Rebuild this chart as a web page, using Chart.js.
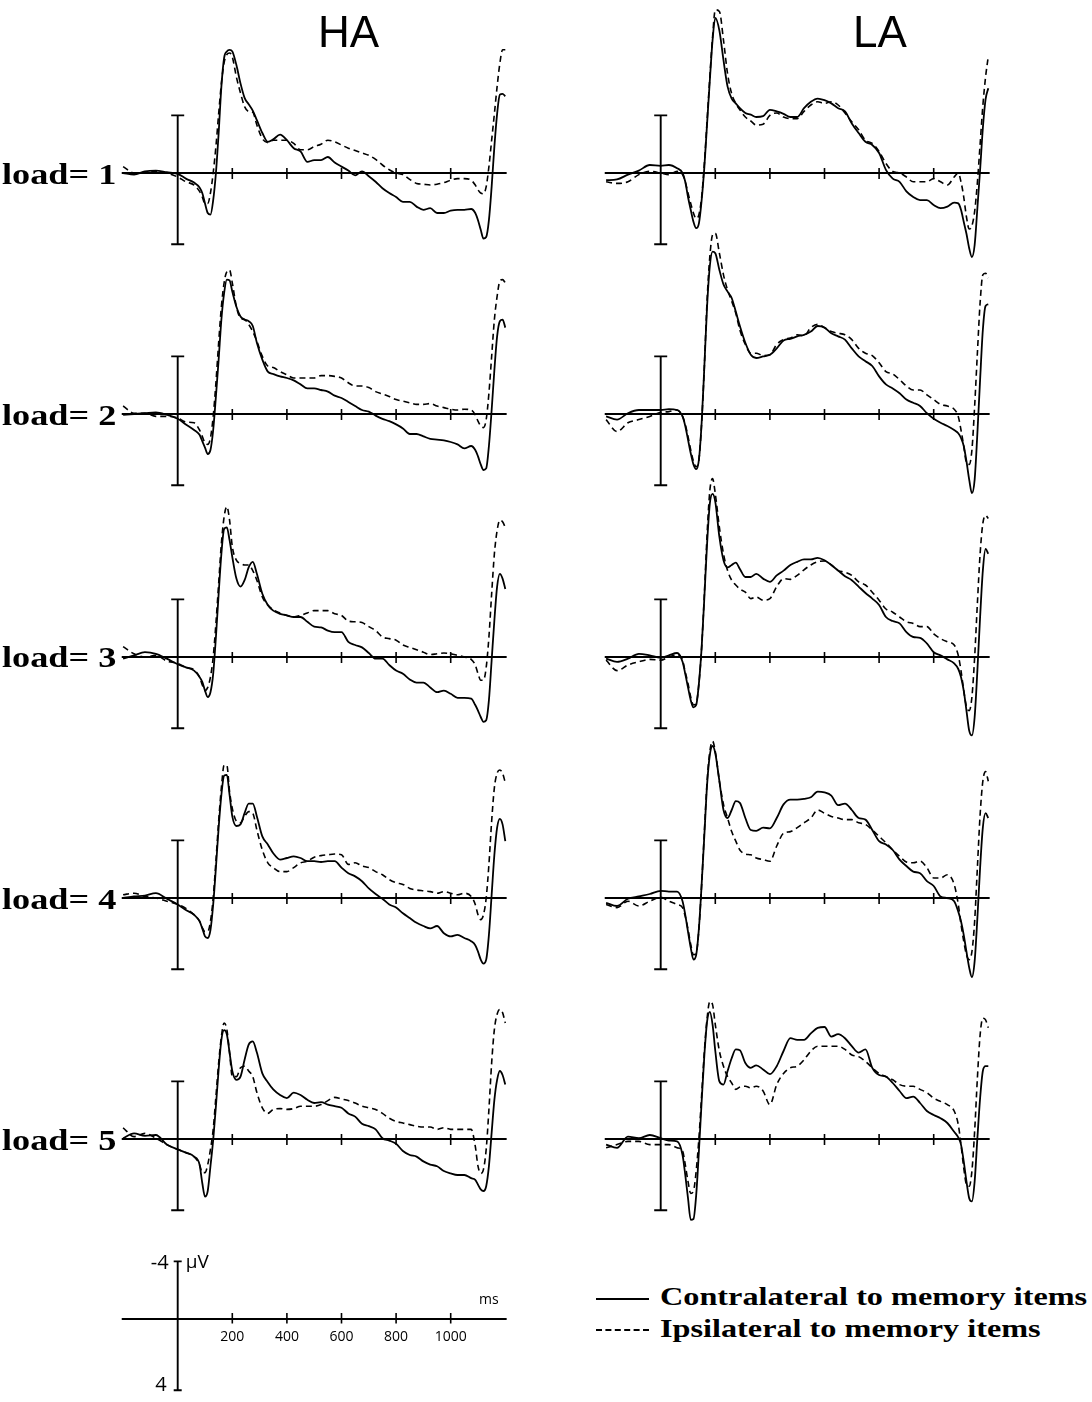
<!DOCTYPE html>
<html><head><meta charset="utf-8">
<script src="https://cdn.jsdelivr.net/npm/chart.js@4.4.1/dist/chart.umd.min.js"></script>
<style>
html,body{margin:0;padding:0;background:#fff;}
body{width:1092px;height:1402px;position:relative;overflow:hidden;}
canvas{position:absolute;}
.title{position:absolute;font-family:"Liberation Sans",Arial,sans-serif;font-size:44px;line-height:44px;color:#000;white-space:nowrap;}
.load{position:absolute;font-family:"Liberation Serif","Times New Roman",serif;font-weight:bold;font-size:29px;line-height:29px;color:#000;white-space:nowrap;transform-origin:0 0;transform:scaleX(1.25);}
.leg{position:absolute;font-family:"Liberation Serif","Times New Roman",serif;font-weight:bold;font-size:25px;line-height:25px;color:#000;white-space:nowrap;transform-origin:0 0;transform:scaleX(1.29);}
.legline{position:absolute;width:53px;height:0;}
</style></head><body>
<script>
// ---- data (µV, negative plotted upward) ----
const times = [-200,-160,-120,-80,-40,0,30,60,80,90,100,110,120,130,140,150,160,170,180,190,200,215,230,245,260,275,290,310,330,350,375,400,425,450,475,500,525,550,575,600,625,650,675,700,725,750,775,800,825,850,875,900,925,950,975,1000,1025,1050,1075,1090,1100,1110,1120,1130,1140,1150,1160,1170,1180,1190,1200];

const colTitles = ['HA','LA'];
const rowLabels = ['load= 1','load= 2','load= 3','load= 4','load= 5'];
const seriesNames = ['Contralateral to memory items','Ipsilateral to memory items'];
const xTickValues = [200,400,600,800,1000];
const xTickLabels = ['200','400','600','800','1000'];
const barLabels = ['-4','4'];
const unitY = 'µV';
const unitX = 'ms';

const ha1Contra = [0,0.1,-0.1,-0.15,-0.05,0.05,0.35,0.6,0.9,1.25,1.9,2.5,2.6,1.7,0,-2.5,-5.4,-7.2,-7.6,-7.7,-7.6,-6.75,-5.6,-4.7,-4.3,-3.9,-3.3,-2.5,-1.95,-2.1,-2.4,-2.05,-1.55,-1.35,-0.7,-0.8,-0.8,-1.0,-0.65,-0.4,-0.15,0.15,-0.1,0.2,0.55,0.95,1.25,1.5,1.8,1.8,2.1,2.3,2.2,2.5,2.5,2.35,2.3,2.3,2.25,2.5,2.95,3.55,4.1,4.0,2.95,0.85,-1.65,-3.7,-4.9,-4.95,-4.8];
const ha1Ipsi = [-0.4,0,0,-0.1,0,0.25,0.55,0.75,1.15,1.5,1.9,1.9,1.25,0,-1.65,-3.7,-5.6,-6.9,-7.4,-7.5,-7.25,-6.0,-5.0,-4.15,-3.85,-3.8,-3.0,-2.15,-1.9,-2.05,-2.05,-2.05,-1.85,-1.45,-1.45,-1.65,-1.8,-2.05,-1.95,-1.75,-1.55,-1.4,-1.25,-1.1,-0.85,-0.5,-0.2,0,0.1,0.4,0.65,0.7,0.75,0.7,0.6,0.45,0.35,0.35,0.45,0.75,1.05,1.25,1.3,0.85,-0.4,-2.05,-3.7,-5.4,-6.85,-7.7,-7.7];
const la1Contra = [0.45,0.4,0.1,-0.15,-0.5,-0.45,-0.5,-0.3,0,0.55,1.5,2.3,3.05,3.45,3.15,1.7,-0.4,-3.1,-5.8,-8.3,-9.7,-8.9,-7.05,-5.4,-4.65,-4.35,-4.05,-3.75,-3.65,-3.5,-3.55,-3.95,-3.85,-3.7,-3.5,-3.5,-4.05,-4.45,-4.65,-4.55,-4.35,-4.05,-3.85,-3.1,-2.5,-1.95,-1.75,-1.25,-0.2,0.35,0.55,1.15,1.5,1.7,1.7,2.0,2.2,2.1,1.85,1.9,2.3,3.05,3.8,4.7,5.25,4.5,2.2,-0.2,-2.8,-4.6,-5.3];
const la1Ipsi = [0.55,0.65,0.55,0.1,-0.1,0,0.1,-0.1,0.1,0.55,1.25,1.9,2.5,2.85,2.6,1.5,-0.6,-3.3,-6.0,-8.5,-10.2,-10.1,-8.3,-6.2,-4.95,-4.35,-3.95,-3.5,-3.25,-3.0,-3.05,-3.6,-3.75,-3.5,-3.4,-3.4,-3.85,-4.25,-4.45,-4.35,-4.45,-4.25,-3.75,-3.2,-2.7,-2.05,-1.85,-1.35,-0.6,-0.1,0,0.25,0.55,0.55,0.55,0.35,0.55,0.75,0.25,0,0.55,1.5,2.75,3.5,3.3,2.4,0.6,-1.8,-4.2,-6.0,-7.3];

const ha2Contra = [0.05,0,-0.05,-0.1,0.05,0.3,0.65,1.0,1.3,1.7,2.1,2.5,2.25,1.0,-1.1,-3.4,-5.9,-7.55,-8.4,-8.35,-7.65,-6.7,-6.1,-5.9,-5.8,-5.5,-4.45,-3.4,-2.65,-2.5,-2.35,-2.25,-2.1,-1.85,-1.6,-1.6,-1.5,-1.4,-1.15,-1.0,-0.75,-0.5,-0.25,-0.15,0.1,0.3,0.45,0.65,0.9,1.25,1.25,1.4,1.55,1.6,1.65,1.75,1.9,2.15,2.0,2.25,2.65,3.15,3.5,3.4,2.0,-0.25,-2.75,-4.85,-5.8,-5.9,-5.4];
const ha2Ipsi = [-0.5,-0.05,-0.05,0.15,0.15,0.25,0.5,0.55,1.0,1.4,1.8,1.9,1.5,0.15,-1.95,-4.45,-6.7,-8.2,-8.9,-9.0,-8.2,-6.7,-6.0,-5.9,-5.6,-5.15,-4.55,-3.6,-3.0,-2.9,-2.65,-2.45,-2.25,-2.25,-2.25,-2.25,-2.4,-2.4,-2.35,-2.25,-1.95,-1.75,-1.75,-1.65,-1.4,-1.25,-1.1,-0.9,-0.8,-0.7,-0.6,-0.6,-0.65,-0.5,-0.4,-0.3,-0.25,-0.3,-0.25,0.05,0.45,0.75,0.85,0.35,-1.3,-3.6,-5.9,-7.35,-8.3,-8.4,-8.2];
const la2Contra = [0.15,0.35,-0.05,-0.25,-0.25,-0.25,-0.3,-0.25,0.15,0.75,1.6,2.45,3.15,3.45,2.85,0.55,-3.0,-6.75,-9.25,-10.15,-10.05,-9.0,-8.1,-7.65,-7.25,-6.4,-5.5,-4.45,-3.7,-3.5,-3.6,-3.7,-4.1,-4.6,-4.7,-4.85,-4.95,-5.15,-5.5,-5.4,-5.05,-4.85,-4.65,-4.1,-3.6,-3.3,-3.0,-2.35,-1.85,-1.6,-1.3,-0.9,-0.7,-0.5,-0.05,0.3,0.55,0.75,1.0,1.2,1.5,2.0,2.95,4.1,4.95,4.1,1.2,-2.15,-5.25,-6.75,-6.85];
const la2Ipsi = [0.35,1.1,0.55,0.35,0.15,-0.1,-0.15,-0.25,0.15,0.65,1.4,2.25,2.95,3.3,2.85,0.55,-3.0,-7.15,-9.85,-11.2,-11.3,-10.05,-8.7,-7.75,-7.05,-6.3,-5.25,-4.35,-3.8,-3.8,-3.65,-3.7,-4.35,-4.65,-4.75,-4.95,-4.9,-5.4,-5.6,-5.4,-5.15,-5.05,-4.95,-4.65,-4.1,-3.8,-3.65,-3.2,-2.65,-2.5,-2.15,-1.75,-1.5,-1.5,-1.2,-0.9,-0.6,-0.5,-0.3,0.15,1.0,2.0,3.05,3.15,2.25,-0.5,-3.8,-6.95,-8.7,-8.8,-8.5];

const ha3Contra = [0.1,-0.1,-0.3,-0.2,0.1,0.45,0.65,0.85,1.25,1.55,2.1,2.5,2.2,1.05,-1.25,-3.95,-6.45,-8.0,-8.1,-7.3,-6.25,-4.9,-4.4,-4.8,-5.6,-5.95,-5.2,-3.95,-3.25,-2.9,-2.7,-2.6,-2.5,-2.5,-2.2,-1.9,-1.85,-1.65,-1.55,-1.55,-0.95,-0.75,-0.6,-0.25,0.1,0.1,0.5,0.85,1.05,1.4,1.6,1.6,1.9,2.2,2.1,2.3,2.55,2.55,2.6,3.0,3.35,3.75,4.05,3.95,2.7,0.2,-2.3,-4.4,-5.2,-4.9,-4.25];
const ha3Ipsi = [-0.65,-0.2,0,-0.1,0.25,0.4,0.65,0.8,1.25,1.75,2.1,1.9,1.25,0,-2.1,-4.6,-7.1,-8.75,-9.4,-8.55,-6.9,-6.05,-5.85,-5.75,-5.75,-5.4,-4.8,-3.75,-3.25,-2.95,-2.75,-2.6,-2.5,-2.6,-2.75,-2.9,-2.9,-2.9,-2.7,-2.6,-2.25,-2.2,-2.15,-1.9,-1.65,-1.25,-1.15,-1.05,-0.75,-0.6,-0.45,-0.3,-0.15,-0.2,-0.25,-0.2,-0.1,0,0.15,0.5,1.05,1.45,1.45,0.65,-1.25,-3.95,-6.45,-7.9,-8.55,-8.45,-8.1];
const la3Contra = [0.1,0.3,0.1,-0.2,-0.1,0.05,-0.1,-0.25,0.3,1.05,1.9,2.7,3.15,3.0,1.65,-0.6,-3.75,-7.1,-9.6,-10.2,-9.7,-7.5,-6.05,-5.6,-5.75,-5.9,-5.5,-5.0,-5.0,-5.2,-4.9,-4.7,-5.1,-5.4,-5.75,-5.95,-6.1,-6.1,-6.2,-6.05,-5.75,-5.4,-5.05,-4.8,-4.4,-4.0,-3.65,-3.25,-2.5,-2.25,-2.1,-1.55,-1.25,-1.2,-0.85,-0.3,-0.1,0.15,0.4,0.75,1.25,2.1,3.35,4.6,4.9,3.75,0.85,-2.5,-5.4,-6.75,-6.45];
const la3Ipsi = [0.2,0.85,0.5,0.3,0.15,0.2,0,-0.15,0.2,0.95,1.65,2.5,3.0,2.9,1.65,-0.6,-3.95,-7.7,-10.4,-11.15,-10.2,-8.1,-6.45,-5.4,-4.8,-4.5,-4.25,-4.05,-3.65,-3.75,-3.55,-3.65,-4.4,-4.9,-4.85,-5.1,-5.45,-5.75,-5.95,-6.0,-5.75,-5.4,-5.3,-5.1,-4.7,-4.5,-4.05,-3.55,-3.0,-2.8,-2.5,-2.2,-2.1,-1.9,-1.9,-1.45,-1.15,-0.95,-0.75,-0.1,0.85,2.1,3.1,3.35,2.5,0,-3.35,-6.45,-8.35,-8.85,-8.65];

const ha4Contra = [0,-0.1,-0.15,-0.3,0.05,0.4,0.75,1.05,1.45,1.9,2.4,2.5,2.0,0.4,-1.9,-4.4,-6.45,-7.65,-7.7,-6.45,-5.1,-4.5,-4.6,-5.3,-5.9,-5.9,-5.1,-3.85,-3.35,-2.8,-2.4,-2.5,-2.6,-2.5,-2.3,-2.3,-2.25,-2.3,-2.3,-1.9,-1.55,-1.35,-1.05,-0.6,-0.25,0.05,0.4,0.6,0.95,1.25,1.55,1.75,1.9,1.75,2.2,2.4,2.3,2.5,2.7,2.95,3.35,3.85,4.1,3.85,2.3,-0.2,-2.7,-4.4,-4.95,-4.6,-3.55];
const ha4Ipsi = [-0.2,-0.3,-0.1,0,0.2,0.4,0.65,1.05,1.45,1.85,2.1,2.1,1.45,0,-2.3,-4.8,-6.9,-8.3,-8.3,-6.65,-5.6,-4.8,-4.7,-5.1,-5.4,-5.3,-4.25,-3.0,-2.2,-1.9,-1.65,-1.65,-1.9,-2.2,-2.3,-2.55,-2.65,-2.7,-2.75,-2.7,-2.1,-2.2,-2.0,-1.9,-1.65,-1.45,-1.15,-0.95,-0.85,-0.6,-0.5,-0.45,-0.4,-0.3,-0.4,-0.3,-0.2,-0.3,-0.1,0.4,1.05,1.35,1.05,0,-2.1,-4.8,-6.9,-7.8,-8.0,-7.8,-7.2];
const la4Contra = [0.3,0.5,0.05,-0.1,-0.25,-0.45,-0.4,-0.4,0.2,1.05,2.1,3.1,3.85,3.55,1.9,-0.85,-3.95,-7.1,-8.95,-9.5,-9.05,-7.3,-5.5,-5.0,-5.5,-6.05,-5.95,-5.0,-4.25,-4.2,-4.4,-4.35,-5.0,-5.85,-6.15,-6.15,-6.2,-6.3,-6.65,-6.6,-6.4,-5.8,-5.9,-5.5,-5.0,-4.9,-4.25,-3.55,-3.35,-3.0,-2.4,-2.0,-1.65,-1.55,-1.05,-0.75,-0.1,0,0.2,0.85,1.45,2.3,3.35,4.35,4.95,3.95,1.25,-1.9,-4.4,-5.3,-5.0];
const la4Ipsi = [0.4,0.6,0.2,0.5,0.2,-0.05,0.2,0.4,0.6,1.15,1.95,2.9,3.55,3.45,1.9,-0.85,-4.15,-7.3,-9.15,-9.8,-9.15,-7.3,-5.85,-5.0,-4.15,-3.55,-3.0,-2.75,-2.7,-2.5,-2.4,-2.3,-3.25,-4.05,-4.15,-4.4,-4.7,-5.0,-5.5,-5.3,-5.1,-5.0,-4.9,-4.9,-4.7,-4.6,-4.25,-3.85,-3.45,-3.0,-2.6,-2.25,-2.2,-2.3,-1.9,-1.25,-1.25,-1.45,-0.85,0.4,1.65,2.7,3.55,3.85,3.35,1.45,-1.9,-5.2,-7.3,-7.9,-7.3];

const ha5Contra = [-0.05,-0.35,-0.2,-0.25,0.35,0.65,0.85,1.1,1.6,2.75,3.6,3.25,1.7,0.05,-2.05,-4.35,-6.2,-6.8,-6.55,-5.4,-4.25,-3.7,-3.9,-4.95,-5.9,-6.1,-5.4,-4.1,-3.55,-3.1,-2.75,-2.55,-2.9,-2.75,-2.45,-2.25,-2.3,-2.15,-2.05,-1.95,-1.6,-1.4,-0.95,-0.8,-0.6,-0.05,0.1,0.3,0.75,1.0,1.1,1.4,1.6,1.7,2.0,2.15,2.25,2.25,2.45,2.55,2.85,3.15,3.25,2.95,1.7,-0.4,-2.45,-3.7,-4.25,-4.0,-3.4];
const ha5Ipsi = [-0.7,-0.15,-0.35,-0.05,0.35,0.65,0.85,1.1,1.6,2.1,2.1,1.6,0.65,-0.6,-2.65,-4.75,-6.4,-7.25,-6.85,-5.4,-3.9,-3.9,-4.45,-4.55,-4.25,-3.9,-2.9,-1.95,-1.6,-1.85,-1.9,-1.85,-1.9,-2.05,-2.05,-2.05,-2.15,-2.4,-2.6,-2.5,-2.4,-2.25,-2.05,-1.95,-1.85,-1.6,-1.3,-1.1,-1.0,-0.9,-0.8,-0.75,-0.75,-0.6,-0.7,-0.6,-0.6,-0.6,-0.6,0.45,1.7,2.15,1.9,0.65,-1.85,-4.75,-6.85,-7.8,-8.1,-7.9,-7.25];
const la5Contra = [0.35,0.55,-0.15,-0.05,-0.25,-0.05,0.1,0.15,1.0,2.25,3.7,5.05,5.0,3.5,0.75,-2.35,-5.25,-7.35,-7.95,-7.15,-5.5,-3.6,-3.4,-4.25,-5.05,-5.6,-5.55,-4.75,-4.45,-4.6,-4.35,-4.05,-4.55,-5.5,-6.3,-6.2,-6.2,-6.6,-6.95,-7.0,-6.4,-6.55,-6.3,-5.8,-5.4,-5.6,-4.45,-4.0,-3.9,-3.5,-3.0,-2.55,-2.65,-2.25,-1.75,-1.5,-1.3,-1.0,-0.45,-0.1,0.35,1.4,2.65,3.7,3.9,2.65,-0.05,-2.55,-4.25,-4.55,-4.55];
const la5Ipsi = [0.55,0.35,0.15,0.15,0.35,0.35,0.35,0.55,0.75,1.6,2.65,3.4,3.25,2.0,-0.05,-2.75,-5.5,-7.55,-8.6,-8.4,-7.15,-5.5,-4.55,-3.9,-3.5,-3.1,-3.25,-3.3,-3.2,-3.3,-3.0,-2.15,-3.4,-4.1,-4.45,-4.55,-4.95,-5.5,-5.8,-5.8,-5.8,-5.8,-5.6,-5.25,-5.15,-4.85,-4.45,-4.1,-3.9,-3.7,-3.4,-3.3,-3.3,-3.1,-2.9,-2.55,-2.35,-2.15,-1.75,-0.9,0.35,1.8,2.85,2.95,2.0,-0.5,-3.8,-6.5,-7.55,-7.45,-6.95];

// ---- layout (not data) ----
const PX_PER_MS = 0.273;
const PX_PER_UV = 16;
const CV_W = 400, CV_H = 300, ZERO_FROM_TOP = 200, AXIS_FROM_LEFT = 62.7;
const colAxisX = [177.7, 660.6];
const rowZeroY = [173, 414.3, 656.7, 898.3, 1139.3];
const scaleZeroY = 1319;
const barTopUV = -3.6, barBottomUV = 4.45;
const lineStart = -205, lineEnd = 1205;

const panels = [
  [ha1Contra, ha1Ipsi, la1Contra, la1Ipsi],
  [ha2Contra, ha2Ipsi, la2Contra, la2Ipsi],
  [ha3Contra, ha3Ipsi, la3Contra, la3Ipsi],
  [ha4Contra, ha4Ipsi, la4Contra, la4Ipsi],
  [ha5Contra, ha5Ipsi, la5Contra, la5Ipsi]
];

const xMin = -AXIS_FROM_LEFT / PX_PER_MS;
const xMax = xMin + CV_W / PX_PER_MS;
const yMin = -ZERO_FROM_TOP / PX_PER_UV;
const yMax = yMin + CV_H / PX_PER_UV;

function axesPlugin(isScale){
  return {
    id:'erpAxes',
    beforeDatasetsDraw(chart){
      const c = chart.ctx, xs = chart.scales.x, ys = chart.scales.y;
      const y0 = ys.getPixelForValue(0), x0 = xs.getPixelForValue(0);
      c.save();
      c.strokeStyle = '#000'; c.lineWidth = 1.8; c.lineCap = 'butt';
      c.beginPath();
      c.moveTo(xs.getPixelForValue(lineStart), y0);
      c.lineTo(xs.getPixelForValue(lineEnd), y0);
      c.stroke();
      c.lineWidth = 1.6;
      xTickValues.forEach(v => {
        const px = xs.getPixelForValue(v);
        c.beginPath();
        c.moveTo(px, y0 + (isScale ? -6 : -5));
        c.lineTo(px, y0 + (isScale ? 4.5 : 6));
        c.stroke();
      });
      const yt = ys.getPixelForValue(barTopUV), yb = ys.getPixelForValue(barBottomUV);
      c.lineWidth = 1.9;
      c.beginPath();
      c.moveTo(x0, yt); c.lineTo(x0, yb);
      const cap = isScale ? 4 : 6.5;
      c.moveTo(x0 - cap, yt); c.lineTo(x0 + cap, yt);
      c.moveTo(x0 - cap, yb); c.lineTo(x0 + cap, yb);
      c.stroke();
      if (isScale) {
        c.fillStyle = '#000';
        c.font = '14px "Open Sans", sans-serif';
        c.textAlign = 'center'; c.textBaseline = 'middle';
        xTickValues.forEach((v, i) => c.fillText(xTickLabels[i], xs.getPixelForValue(v), y0 + 18));
        c.fillText(unitX, xs.getPixelForValue(1140), y0 - 19);
        c.font = '20px "Open Sans", sans-serif';
        c.textAlign = 'right';
        c.fillText(barLabels[0], x0 - 9, yt + 2);
        c.fillText(barLabels[1], x0 - 11, yb - 5);
        c.textAlign = 'left';
        c.font = '19px "Open Sans", sans-serif';
        c.fillText(unitY, x0 + 8, yt + 1);
      }
      c.restore();
    }
  };
}

function makeChart(left, top, contra, ipsi, isScale){
  const cv = document.createElement('canvas');
  cv.width = CV_W; cv.height = CV_H;
  cv.style.left = left + 'px'; cv.style.top = top + 'px';
  cv.style.width = CV_W + 'px'; cv.style.height = CV_H + 'px';
  document.body.appendChild(cv);
  const datasets = [];
  if (contra) {
    datasets.push({label: seriesNames[0], data: times.map((t, i) => ({x: t, y: contra[i]})),
      borderColor:'#000', borderWidth:1.8, pointRadius:0, fill:false, cubicInterpolationMode:'monotone'});
    datasets.push({label: seriesNames[1], data: times.map((t, i) => ({x: t, y: ipsi[i]})),
      borderColor:'#000', borderWidth:1.6, borderDash:[6,4], pointRadius:0, fill:false, cubicInterpolationMode:'monotone'});
  }
  new Chart(cv, {
    type:'line',
    data:{datasets},
    options:{
      responsive:false, animation:false, events:[], devicePixelRatio:1,
      layout:{padding:0},
      plugins:{legend:{display:false}, tooltip:{enabled:false}, title:{display:false}},
      scales:{
        x:{type:'linear', min:xMin, max:xMax, display:false},
        y:{type:'linear', min:yMin, max:yMax, reverse:true, display:false}
      }
    },
    plugins:[axesPlugin(isScale)]
  });
}

panels.forEach((p, r) => {
  for (let col = 0; col < 2; col++) {
    makeChart(colAxisX[col] - AXIS_FROM_LEFT, rowZeroY[r] - ZERO_FROM_TOP, p[col*2], p[col*2+1], false);
  }
});
makeChart(colAxisX[0] - AXIS_FROM_LEFT, scaleZeroY - ZERO_FROM_TOP, null, null, true);

// ---- text ----
function addDiv(cls, text, left, top){
  const d = document.createElement('div');
  d.className = cls; d.textContent = text;
  d.style.left = left + 'px'; d.style.top = top + 'px';
  document.body.appendChild(d);
  return d;
}
addDiv('title', colTitles[0], 318, 47 - 0.8465*44);
addDiv('title', colTitles[1], 853, 47 - 0.8465*44);
rowLabels.forEach((t, r) => addDiv('load', t, 2, rowZeroY[r] + 11 - 0.8375*29));
addDiv('leg', seriesNames[0], 660, 1305 - 0.8375*25);
addDiv('leg', seriesNames[1], 660, 1337 - 0.8375*25);
const l1 = document.createElement('div'); l1.className='legline';
l1.style.left='596px'; l1.style.top='1298px'; l1.style.borderTop='2px solid #000';
document.body.appendChild(l1);
const l2 = document.createElement('div'); l2.className='legline';
l2.style.left='596px'; l2.style.top='1329px'; l2.style.borderTop='2px dashed #000';
document.body.appendChild(l2);
</script>
</body></html>
